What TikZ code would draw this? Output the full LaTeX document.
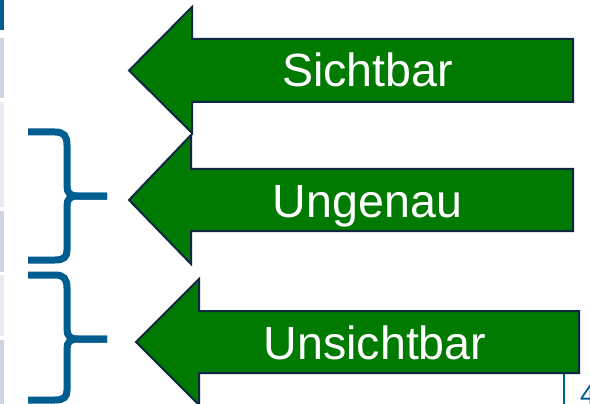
\documentclass[tikz,border=0pt]{standalone}
\usepackage{fontspec}
\setmainfont{Liberation Sans}
\definecolor{arrowgreen}{HTML}{007A00}
\definecolor{arrowedge}{HTML}{0E2841}
\definecolor{braceblue}{HTML}{005D8F}
\definecolor{stripgrey}{HTML}{CDD3DF}
\definecolor{striplight}{HTML}{E8EBF2}
\tikzset{
  bigarrow/.style={fill=arrowgreen, draw=arrowedge, line width=2pt, line join=miter},
  bracket/.style={draw=braceblue, line width=7pt, line join=miter, line cap=butt},
  label/.style={text=white, font=\fontsize{46.6}{50}\selectfont, inner sep=0pt, anchor=base},
  pagerule/.style={draw=braceblue, line width=2pt}
}
\begin{document}
\begin{tikzpicture}[x=1pt, y=-1pt]
  \useasboundingbox (0,0) rectangle (590,404);
  \clip (0,0) rectangle (590,404);
  \fill[white] (0,0) rectangle (590,404);

  % side strips along the left edge
  \fill[braceblue]  (0,0)   rectangle (4,30);
  \fill[stripgrey]  (0,38)  rectangle (4,98);
  \fill[striplight] (0,102) rectangle (4,207);
  \fill[stripgrey]  (0,211) rectangle (4,272);
  \fill[striplight] (0,275) rectangle (4,336);
  \fill[stripgrey]  (0,340) rectangle (4,404);

  % curly brackets
  \draw[bracket] (28,132) -- (55,132) .. controls (64,132) and (67,136) .. (67,145)
     -- (67,186) .. controls (67,193) and (70,196) .. (78,196) -- (107,196);
  \draw[bracket] (107,196) -- (78,196) .. controls (70,196) and (67,199) .. (67,206)
     -- (67,250) .. controls (67,257) and (64,260) .. (55,260) -- (28,260);
  \draw[bracket] (28,275) -- (55,275) .. controls (64,275) and (67,279) .. (67,288)
     -- (67,329) .. controls (67,336) and (70,339) .. (78,339) -- (107,339);
  \draw[bracket] (107,339) -- (78,339) .. controls (70,339) and (67,342) .. (67,349)
     -- (67,390) .. controls (67,397) and (64,400) .. (55,400) -- (28,400);

  % left-pointing block arrows
  \draw[bigarrow] (136,342) -- (199,279) -- (199,311) -- (579,311) -- (579,373)
     -- (199,373) -- (199,405) -- cycle;
  \draw[bigarrow] (129,200) -- (191,135) -- (191,169) -- (573,169) -- (573,231)
     -- (191,231) -- (191,264) -- cycle;
  \draw[bigarrow] (129,70.5) -- (192,7) -- (192,39) -- (573,39) -- (573,102)
     -- (192,102) -- (192,133) -- cycle;

  \node[label] (sichtbar)   at (367.5,87)  {Sichtbar};
  \node[label] (ungenau)    at (367.5,217.5) {Ungenau};
  \node[label] (unsichtbar) at (375,359.5) {Unsichtbar};

  % page number corner
  \coordinate (ruletop) at (564,374);
  \coordinate (rulefoot) at (564,404);
  \draw[pagerule] (ruletop) -- (rulefoot);
  \node[text=braceblue, font=\fontsize{28}{30}\selectfont, inner sep=0pt,
        anchor=base west] (pagenum) at (580,404) {4};
\end{tikzpicture}
\end{document}
